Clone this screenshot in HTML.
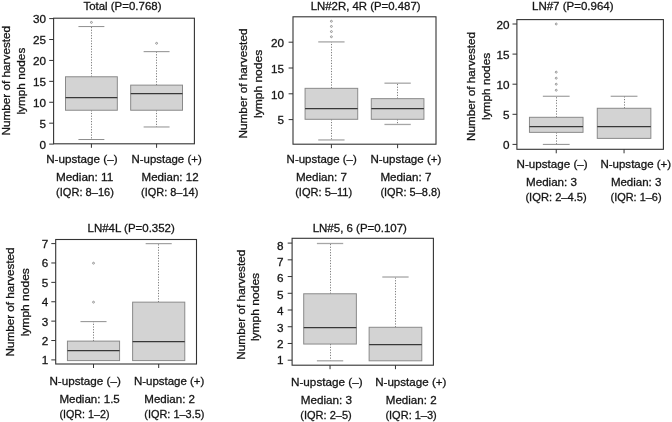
<!DOCTYPE html>
<html><head><meta charset="utf-8"><title>Boxplots</title>
<style>
html,body{margin:0;padding:0;background:#fff;overflow:hidden;}
svg{display:block;will-change:transform;opacity:0.999;font-family:"Liberation Sans",sans-serif;fill:#151515;}
text{stroke:#151515;stroke-width:0.3px;}
</style></head>
<body>
<svg width="672" height="422" viewBox="0 0 672 422">
<rect x="0" y="0" width="672" height="422" fill="#fff"/>
<rect x="53.60" y="18.20" width="140.80" height="125.60" fill="none" stroke="#333" stroke-width="1.1"/>
<line x1="49.20" y1="144.10" x2="53.60" y2="144.10" stroke="#333" stroke-width="1"/>
<text x="46.00" y="148.60" text-anchor="end" font-size="11.7">0</text>
<line x1="49.20" y1="123.18" x2="53.60" y2="123.18" stroke="#333" stroke-width="1"/>
<text x="46.00" y="127.68" text-anchor="end" font-size="11.7">5</text>
<line x1="49.20" y1="102.27" x2="53.60" y2="102.27" stroke="#333" stroke-width="1"/>
<text x="46.00" y="106.77" text-anchor="end" font-size="11.7">10</text>
<line x1="49.20" y1="81.35" x2="53.60" y2="81.35" stroke="#333" stroke-width="1"/>
<text x="46.00" y="85.85" text-anchor="end" font-size="11.7">15</text>
<line x1="49.20" y1="60.43" x2="53.60" y2="60.43" stroke="#333" stroke-width="1"/>
<text x="46.00" y="64.93" text-anchor="end" font-size="11.7">20</text>
<line x1="49.20" y1="39.52" x2="53.60" y2="39.52" stroke="#333" stroke-width="1"/>
<text x="46.00" y="44.02" text-anchor="end" font-size="11.7">25</text>
<line x1="49.20" y1="18.60" x2="53.60" y2="18.60" stroke="#333" stroke-width="1"/>
<text x="46.00" y="23.10" text-anchor="end" font-size="11.7">30</text>
<line x1="91.41" y1="143.80" x2="91.41" y2="147.80" stroke="#333" stroke-width="1"/>
<line x1="156.59" y1="143.80" x2="156.59" y2="147.80" stroke="#333" stroke-width="1"/>
<line x1="91.50" y1="76.77" x2="91.50" y2="26.57" stroke="#666" stroke-width="0.85" stroke-dasharray="1.2,1.5"/>
<line x1="78.45" y1="26.57" x2="104.36" y2="26.57" stroke="#8e8e8e" stroke-width="1.0"/>
<line x1="91.50" y1="110.23" x2="91.50" y2="139.52" stroke="#666" stroke-width="0.85" stroke-dasharray="1.2,1.5"/>
<line x1="78.45" y1="139.52" x2="104.36" y2="139.52" stroke="#8e8e8e" stroke-width="1.0"/>
<rect x="65.50" y="76.77" width="51.82" height="33.47" fill="#d3d3d3" stroke="#8a8a8a" stroke-width="1"/>
<line x1="65.50" y1="97.50" x2="117.32" y2="97.50" stroke="#383838" stroke-width="1.25"/>
<circle cx="91.41" cy="22.38" r="0.95" fill="none" stroke="#7a7a7a" stroke-width="0.75"/>
<line x1="156.50" y1="85.13" x2="156.50" y2="51.67" stroke="#666" stroke-width="0.85" stroke-dasharray="1.2,1.5"/>
<line x1="143.64" y1="51.67" x2="169.55" y2="51.67" stroke="#8e8e8e" stroke-width="1.0"/>
<line x1="156.50" y1="110.23" x2="156.50" y2="126.97" stroke="#666" stroke-width="0.85" stroke-dasharray="1.2,1.5"/>
<line x1="143.64" y1="126.97" x2="169.55" y2="126.97" stroke="#8e8e8e" stroke-width="1.0"/>
<rect x="130.68" y="85.13" width="51.82" height="25.10" fill="#d3d3d3" stroke="#8a8a8a" stroke-width="1"/>
<line x1="130.68" y1="93.50" x2="182.50" y2="93.50" stroke="#383838" stroke-width="1.25"/>
<circle cx="156.59" cy="43.30" r="0.95" fill="none" stroke="#7a7a7a" stroke-width="0.75"/>
<text x="83.40" y="9.90" text-anchor="start" font-size="11.5" textLength="78.1" lengthAdjust="spacingAndGlyphs">Total (P=0.768)</text>
<text x="9.80" y="135.50" text-anchor="start" font-size="11.5" textLength="109.6" lengthAdjust="spacingAndGlyphs" transform="rotate(-90 9.80 135.50)">Number of harvested</text>
<text x="25.00" y="114.60" text-anchor="start" font-size="11.5" textLength="66.9" lengthAdjust="spacingAndGlyphs" transform="rotate(-90 25.00 114.60)">lymph nodes</text>
<text x="46.20" y="162.90" text-anchor="start" font-size="11.5" textLength="71.4" lengthAdjust="spacingAndGlyphs">N-upstage (–)</text>
<text x="131.50" y="162.90" text-anchor="start" font-size="11.5" textLength="70.2" lengthAdjust="spacingAndGlyphs">N-upstage (+)</text>
<text x="56.00" y="180.50" text-anchor="start" font-size="11.5" textLength="57.3" lengthAdjust="spacingAndGlyphs">Median: 11</text>
<text x="141.60" y="180.50" text-anchor="start" font-size="11.5" textLength="57.0" lengthAdjust="spacingAndGlyphs">Median: 12</text>
<text x="56.00" y="195.50" text-anchor="start" font-size="11.5" textLength="57.9" lengthAdjust="spacingAndGlyphs">(IQR: 8–16)</text>
<text x="141.00" y="195.50" text-anchor="start" font-size="11.5" textLength="57.3" lengthAdjust="spacingAndGlyphs">(IQR: 8–14)</text>
<rect x="293.00" y="16.80" width="143.00" height="127.40" fill="none" stroke="#333" stroke-width="1.1"/>
<line x1="288.60" y1="119.60" x2="293.00" y2="119.60" stroke="#333" stroke-width="1"/>
<text x="284.00" y="124.30" text-anchor="end" font-size="11.7">5</text>
<line x1="288.60" y1="93.80" x2="293.00" y2="93.80" stroke="#333" stroke-width="1"/>
<text x="284.00" y="98.50" text-anchor="end" font-size="11.7">10</text>
<line x1="288.60" y1="68.00" x2="293.00" y2="68.00" stroke="#333" stroke-width="1"/>
<text x="284.00" y="72.70" text-anchor="end" font-size="11.7">15</text>
<line x1="288.60" y1="42.20" x2="293.00" y2="42.20" stroke="#333" stroke-width="1"/>
<text x="284.00" y="46.90" text-anchor="end" font-size="11.7">20</text>
<line x1="331.40" y1="144.20" x2="331.40" y2="148.20" stroke="#333" stroke-width="1"/>
<line x1="397.60" y1="144.20" x2="397.60" y2="148.20" stroke="#333" stroke-width="1"/>
<line x1="331.50" y1="88.34" x2="331.50" y2="41.90" stroke="#666" stroke-width="0.85" stroke-dasharray="1.2,1.5"/>
<line x1="318.24" y1="41.90" x2="344.56" y2="41.90" stroke="#a6a6a6" stroke-width="1.3"/>
<line x1="331.50" y1="119.30" x2="331.50" y2="139.94" stroke="#666" stroke-width="0.85" stroke-dasharray="1.2,1.5"/>
<line x1="318.24" y1="139.94" x2="344.56" y2="139.94" stroke="#a6a6a6" stroke-width="1.3"/>
<rect x="305.08" y="88.34" width="52.63" height="30.96" fill="#d3d3d3" stroke="#8a8a8a" stroke-width="1"/>
<line x1="305.08" y1="108.50" x2="357.71" y2="108.50" stroke="#383838" stroke-width="1.25"/>
<circle cx="331.40" cy="36.74" r="0.95" fill="none" stroke="#7a7a7a" stroke-width="0.75"/>
<circle cx="331.40" cy="31.58" r="0.95" fill="none" stroke="#7a7a7a" stroke-width="0.75"/>
<circle cx="331.40" cy="26.42" r="0.95" fill="none" stroke="#7a7a7a" stroke-width="0.75"/>
<circle cx="331.40" cy="21.26" r="0.95" fill="none" stroke="#7a7a7a" stroke-width="0.75"/>
<line x1="397.50" y1="98.66" x2="397.50" y2="83.18" stroke="#666" stroke-width="0.85" stroke-dasharray="1.2,1.5"/>
<line x1="384.44" y1="83.18" x2="410.76" y2="83.18" stroke="#a6a6a6" stroke-width="1.3"/>
<line x1="397.50" y1="119.30" x2="397.50" y2="124.46" stroke="#666" stroke-width="0.85" stroke-dasharray="1.2,1.5"/>
<line x1="384.44" y1="124.46" x2="410.76" y2="124.46" stroke="#a6a6a6" stroke-width="1.3"/>
<rect x="371.29" y="98.66" width="52.63" height="20.64" fill="#d3d3d3" stroke="#8a8a8a" stroke-width="1"/>
<line x1="371.29" y1="108.50" x2="423.92" y2="108.50" stroke="#383838" stroke-width="1.25"/>
<text x="310.70" y="9.90" text-anchor="start" font-size="11.5" textLength="109.9" lengthAdjust="spacingAndGlyphs">LN#2R, 4R (P=0.487)</text>
<text x="247.40" y="138.50" text-anchor="start" font-size="11.5" textLength="110.0" lengthAdjust="spacingAndGlyphs" transform="rotate(-90 247.40 138.50)">Number of harvested</text>
<text x="261.50" y="118.00" text-anchor="start" font-size="11.5" textLength="68.2" lengthAdjust="spacingAndGlyphs" transform="rotate(-90 261.50 118.00)">lymph nodes</text>
<text x="286.60" y="163.00" text-anchor="start" font-size="11.5" textLength="70.2" lengthAdjust="spacingAndGlyphs">N-upstage (–)</text>
<text x="370.40" y="163.00" text-anchor="start" font-size="11.5" textLength="71.0" lengthAdjust="spacingAndGlyphs">N-upstage (+)</text>
<text x="295.90" y="180.50" text-anchor="start" font-size="11.5" textLength="51.0" lengthAdjust="spacingAndGlyphs">Median: 7</text>
<text x="380.40" y="180.50" text-anchor="start" font-size="11.5" textLength="51.0" lengthAdjust="spacingAndGlyphs">Median: 7</text>
<text x="295.20" y="195.80" text-anchor="start" font-size="11.5" textLength="57.0" lengthAdjust="spacingAndGlyphs">(IQR: 5–11)</text>
<text x="380.40" y="195.80" text-anchor="start" font-size="11.5" textLength="60.3" lengthAdjust="spacingAndGlyphs">(IQR: 5–8.8)</text>
<rect x="516.90" y="19.60" width="146.50" height="129.70" fill="none" stroke="#333" stroke-width="1.1"/>
<line x1="512.50" y1="144.40" x2="516.90" y2="144.40" stroke="#333" stroke-width="1"/>
<text x="509.40" y="149.20" text-anchor="end" font-size="11.7">0</text>
<line x1="512.50" y1="114.30" x2="516.90" y2="114.30" stroke="#333" stroke-width="1"/>
<text x="509.40" y="119.10" text-anchor="end" font-size="11.7">5</text>
<line x1="512.50" y1="84.20" x2="516.90" y2="84.20" stroke="#333" stroke-width="1"/>
<text x="509.40" y="89.00" text-anchor="end" font-size="11.7">10</text>
<line x1="512.50" y1="54.10" x2="516.90" y2="54.10" stroke="#333" stroke-width="1"/>
<text x="509.40" y="58.90" text-anchor="end" font-size="11.7">15</text>
<line x1="512.50" y1="24.00" x2="516.90" y2="24.00" stroke="#333" stroke-width="1"/>
<text x="509.40" y="28.80" text-anchor="end" font-size="11.7">20</text>
<line x1="556.24" y1="149.30" x2="556.24" y2="153.30" stroke="#333" stroke-width="1"/>
<line x1="624.06" y1="149.30" x2="624.06" y2="153.30" stroke="#333" stroke-width="1"/>
<line x1="556.50" y1="117.31" x2="556.50" y2="96.24" stroke="#666" stroke-width="0.85" stroke-dasharray="1.2,1.5"/>
<line x1="542.84" y1="96.24" x2="569.63" y2="96.24" stroke="#929292" stroke-width="1.05"/>
<line x1="556.50" y1="132.36" x2="556.50" y2="144.40" stroke="#666" stroke-width="0.85" stroke-dasharray="1.2,1.5"/>
<line x1="542.84" y1="144.40" x2="569.63" y2="144.40" stroke="#929292" stroke-width="1.05"/>
<rect x="529.45" y="117.31" width="53.58" height="15.05" fill="#d3d3d3" stroke="#8a8a8a" stroke-width="1"/>
<line x1="529.45" y1="126.50" x2="583.03" y2="126.50" stroke="#383838" stroke-width="1.25"/>
<circle cx="556.24" cy="90.22" r="0.95" fill="none" stroke="#7a7a7a" stroke-width="0.75"/>
<circle cx="556.24" cy="84.20" r="0.95" fill="none" stroke="#7a7a7a" stroke-width="0.75"/>
<circle cx="556.24" cy="78.18" r="0.95" fill="none" stroke="#7a7a7a" stroke-width="0.75"/>
<circle cx="556.24" cy="72.16" r="0.95" fill="none" stroke="#7a7a7a" stroke-width="0.75"/>
<circle cx="556.24" cy="24.00" r="0.95" fill="none" stroke="#7a7a7a" stroke-width="0.75"/>
<line x1="624.50" y1="108.28" x2="624.50" y2="96.24" stroke="#666" stroke-width="0.85" stroke-dasharray="1.2,1.5"/>
<line x1="610.67" y1="96.24" x2="637.46" y2="96.24" stroke="#929292" stroke-width="1.05"/>
<rect x="597.27" y="108.28" width="53.58" height="30.10" fill="#d3d3d3" stroke="#8a8a8a" stroke-width="1"/>
<line x1="597.27" y1="126.50" x2="650.85" y2="126.50" stroke="#383838" stroke-width="1.25"/>
<text x="532.00" y="9.90" text-anchor="start" font-size="11.5" textLength="81.6" lengthAdjust="spacingAndGlyphs">LN#7 (P=0.964)</text>
<text x="475.40" y="140.90" text-anchor="start" font-size="11.5" textLength="108.9" lengthAdjust="spacingAndGlyphs" transform="rotate(-90 475.40 140.90)">Number of harvested</text>
<text x="489.50" y="120.00" text-anchor="start" font-size="11.5" textLength="67.2" lengthAdjust="spacingAndGlyphs" transform="rotate(-90 489.50 120.00)">lymph nodes</text>
<text x="516.60" y="168.20" text-anchor="start" font-size="11.5" textLength="71.0" lengthAdjust="spacingAndGlyphs">N-upstage (–)</text>
<text x="600.40" y="168.20" text-anchor="start" font-size="11.5" textLength="70.8" lengthAdjust="spacingAndGlyphs">N-upstage (+)</text>
<text x="526.00" y="186.00" text-anchor="start" font-size="11.5" textLength="51.0" lengthAdjust="spacingAndGlyphs">Median: 3</text>
<text x="610.90" y="186.00" text-anchor="start" font-size="11.5" textLength="50.5" lengthAdjust="spacingAndGlyphs">Median: 3</text>
<text x="525.40" y="200.90" text-anchor="start" font-size="11.5" textLength="61.4" lengthAdjust="spacingAndGlyphs">(IQR: 2–4.5)</text>
<text x="610.50" y="200.90" text-anchor="start" font-size="11.5" textLength="51.1" lengthAdjust="spacingAndGlyphs">(IQR: 1–6)</text>
<rect x="55.70" y="239.50" width="140.80" height="124.50" fill="none" stroke="#333" stroke-width="1.1"/>
<line x1="51.30" y1="359.90" x2="55.70" y2="359.90" stroke="#333" stroke-width="1"/>
<text x="48.20" y="364.30" text-anchor="end" font-size="11.7">1</text>
<line x1="51.30" y1="340.52" x2="55.70" y2="340.52" stroke="#333" stroke-width="1"/>
<text x="48.20" y="344.92" text-anchor="end" font-size="11.7">2</text>
<line x1="51.30" y1="321.13" x2="55.70" y2="321.13" stroke="#333" stroke-width="1"/>
<text x="48.20" y="325.53" text-anchor="end" font-size="11.7">3</text>
<line x1="51.30" y1="301.75" x2="55.70" y2="301.75" stroke="#333" stroke-width="1"/>
<text x="48.20" y="306.15" text-anchor="end" font-size="11.7">4</text>
<line x1="51.30" y1="282.37" x2="55.70" y2="282.37" stroke="#333" stroke-width="1"/>
<text x="48.20" y="286.77" text-anchor="end" font-size="11.7">5</text>
<line x1="51.30" y1="262.98" x2="55.70" y2="262.98" stroke="#333" stroke-width="1"/>
<text x="48.20" y="267.38" text-anchor="end" font-size="11.7">6</text>
<line x1="51.30" y1="243.60" x2="55.70" y2="243.60" stroke="#333" stroke-width="1"/>
<text x="48.20" y="248.00" text-anchor="end" font-size="11.7">7</text>
<line x1="93.51" y1="364.00" x2="93.51" y2="368.00" stroke="#333" stroke-width="1"/>
<line x1="158.69" y1="364.00" x2="158.69" y2="368.00" stroke="#333" stroke-width="1"/>
<line x1="93.50" y1="341.12" x2="93.50" y2="321.63" stroke="#666" stroke-width="0.85" stroke-dasharray="1.2,1.5"/>
<line x1="80.47" y1="321.63" x2="106.54" y2="321.63" stroke="#8e8e8e" stroke-width="1.0"/>
<rect x="67.43" y="341.12" width="52.15" height="19.48" fill="#d3d3d3" stroke="#8a8a8a" stroke-width="1"/>
<line x1="67.43" y1="350.50" x2="119.58" y2="350.50" stroke="#383838" stroke-width="1.25"/>
<circle cx="93.51" cy="302.15" r="0.95" fill="none" stroke="#7a7a7a" stroke-width="0.75"/>
<circle cx="93.51" cy="263.18" r="0.95" fill="none" stroke="#7a7a7a" stroke-width="0.75"/>
<line x1="158.50" y1="302.15" x2="158.50" y2="243.70" stroke="#666" stroke-width="0.85" stroke-dasharray="1.2,1.5"/>
<line x1="145.66" y1="243.70" x2="171.73" y2="243.70" stroke="#8e8e8e" stroke-width="1.0"/>
<rect x="132.62" y="302.15" width="52.15" height="58.45" fill="#d3d3d3" stroke="#8a8a8a" stroke-width="1"/>
<line x1="132.62" y1="341.50" x2="184.77" y2="341.50" stroke="#383838" stroke-width="1.25"/>
<text x="87.50" y="231.70" text-anchor="start" font-size="11.5" textLength="87.3" lengthAdjust="spacingAndGlyphs">LN#4L (P=0.352)</text>
<text x="14.40" y="356.50" text-anchor="start" font-size="11.5" textLength="109.1" lengthAdjust="spacingAndGlyphs" transform="rotate(-90 14.40 356.50)">Number of harvested</text>
<text x="28.70" y="336.30" text-anchor="start" font-size="11.5" textLength="68.2" lengthAdjust="spacingAndGlyphs" transform="rotate(-90 28.70 336.30)">lymph nodes</text>
<text x="49.40" y="385.20" text-anchor="start" font-size="11.5" textLength="71.4" lengthAdjust="spacingAndGlyphs">N-upstage (–)</text>
<text x="133.90" y="385.20" text-anchor="start" font-size="11.5" textLength="70.5" lengthAdjust="spacingAndGlyphs">N-upstage (+)</text>
<text x="59.40" y="403.00" text-anchor="start" font-size="11.5" textLength="60.4" lengthAdjust="spacingAndGlyphs">Median: 1.5</text>
<text x="144.30" y="403.00" text-anchor="start" font-size="11.5" textLength="50.7" lengthAdjust="spacingAndGlyphs">Median: 2</text>
<text x="59.40" y="418.10" text-anchor="start" font-size="11.5" textLength="50.1" lengthAdjust="spacingAndGlyphs">(IQR: 1–2)</text>
<text x="144.30" y="418.10" text-anchor="start" font-size="11.5" textLength="60.1" lengthAdjust="spacingAndGlyphs">(IQR: 1–3.5)</text>
<rect x="292.10" y="238.30" width="141.30" height="126.90" fill="none" stroke="#333" stroke-width="1.1"/>
<line x1="287.70" y1="360.20" x2="292.10" y2="360.20" stroke="#333" stroke-width="1"/>
<text x="283.40" y="364.30" text-anchor="end" font-size="11.7">1</text>
<line x1="287.70" y1="343.47" x2="292.10" y2="343.47" stroke="#333" stroke-width="1"/>
<text x="283.40" y="347.90" text-anchor="end" font-size="11.7">2</text>
<line x1="287.70" y1="326.74" x2="292.10" y2="326.74" stroke="#333" stroke-width="1"/>
<text x="283.40" y="331.50" text-anchor="end" font-size="11.7">3</text>
<line x1="287.70" y1="310.01" x2="292.10" y2="310.01" stroke="#333" stroke-width="1"/>
<text x="283.40" y="315.10" text-anchor="end" font-size="11.7">4</text>
<line x1="287.70" y1="293.29" x2="292.10" y2="293.29" stroke="#333" stroke-width="1"/>
<text x="283.40" y="298.70" text-anchor="end" font-size="11.7">5</text>
<line x1="287.70" y1="276.56" x2="292.10" y2="276.56" stroke="#333" stroke-width="1"/>
<text x="283.40" y="282.30" text-anchor="end" font-size="11.7">6</text>
<line x1="287.70" y1="259.83" x2="292.10" y2="259.83" stroke="#333" stroke-width="1"/>
<text x="283.40" y="265.90" text-anchor="end" font-size="11.7">7</text>
<line x1="287.70" y1="243.10" x2="292.10" y2="243.10" stroke="#333" stroke-width="1"/>
<text x="283.40" y="249.50" text-anchor="end" font-size="11.7">8</text>
<line x1="330.04" y1="365.20" x2="330.04" y2="369.20" stroke="#333" stroke-width="1"/>
<line x1="395.46" y1="365.20" x2="395.46" y2="369.20" stroke="#333" stroke-width="1"/>
<line x1="330.50" y1="293.77" x2="330.50" y2="243.50" stroke="#666" stroke-width="0.85" stroke-dasharray="1.2,1.5"/>
<line x1="316.88" y1="243.50" x2="343.21" y2="243.50" stroke="#a6a6a6" stroke-width="1.3"/>
<line x1="330.50" y1="344.04" x2="330.50" y2="360.80" stroke="#666" stroke-width="0.85" stroke-dasharray="1.2,1.5"/>
<line x1="316.88" y1="360.80" x2="343.21" y2="360.80" stroke="#a6a6a6" stroke-width="1.3"/>
<rect x="303.71" y="293.77" width="52.66" height="50.27" fill="#d3d3d3" stroke="#8a8a8a" stroke-width="1"/>
<line x1="303.71" y1="327.50" x2="356.37" y2="327.50" stroke="#383838" stroke-width="1.25"/>
<line x1="395.50" y1="327.29" x2="395.50" y2="277.01" stroke="#666" stroke-width="0.85" stroke-dasharray="1.2,1.5"/>
<line x1="382.29" y1="277.01" x2="408.62" y2="277.01" stroke="#a6a6a6" stroke-width="1.3"/>
<rect x="369.13" y="327.29" width="52.66" height="33.51" fill="#d3d3d3" stroke="#8a8a8a" stroke-width="1"/>
<line x1="369.13" y1="344.50" x2="421.79" y2="344.50" stroke="#383838" stroke-width="1.25"/>
<text x="312.70" y="231.70" text-anchor="start" font-size="11.5" textLength="94.2" lengthAdjust="spacingAndGlyphs">LN#5, 6 (P=0.107)</text>
<text x="245.20" y="359.70" text-anchor="start" font-size="11.5" textLength="110.1" lengthAdjust="spacingAndGlyphs" transform="rotate(-90 245.20 359.70)">Number of harvested</text>
<text x="259.30" y="341.10" text-anchor="start" font-size="11.5" textLength="68.2" lengthAdjust="spacingAndGlyphs" transform="rotate(-90 259.30 341.10)">lymph nodes</text>
<text x="291.00" y="385.90" text-anchor="start" font-size="11.5" textLength="71.6" lengthAdjust="spacingAndGlyphs">N-upstage (–)</text>
<text x="375.20" y="385.90" text-anchor="start" font-size="11.5" textLength="71.2" lengthAdjust="spacingAndGlyphs">N-upstage (+)</text>
<text x="300.70" y="403.50" text-anchor="start" font-size="11.5" textLength="51.3" lengthAdjust="spacingAndGlyphs">Median: 3</text>
<text x="385.80" y="403.50" text-anchor="start" font-size="11.5" textLength="50.8" lengthAdjust="spacingAndGlyphs">Median: 2</text>
<text x="300.30" y="418.90" text-anchor="start" font-size="11.5" textLength="51.5" lengthAdjust="spacingAndGlyphs">(IQR: 2–5)</text>
<text x="385.40" y="418.90" text-anchor="start" font-size="11.5" textLength="51.4" lengthAdjust="spacingAndGlyphs">(IQR: 1–3)</text>
</svg>
</body></html>
